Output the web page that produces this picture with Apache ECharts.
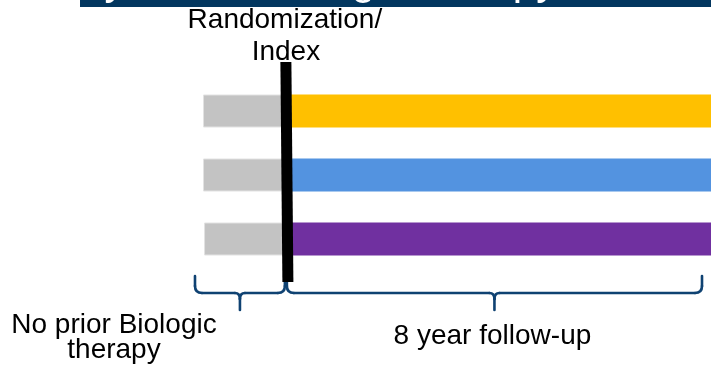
<!DOCTYPE html>
<html>
<head>
<meta charset="utf-8">
<script src="https://cdn.jsdelivr.net/npm/echarts@6/dist/echarts.min.js"></script>
<style>
  html, body { margin: 0; padding: 0; background: #ffffff; }
  #chart { width: 711px; height: 371px; }
</style>
</head>
<body>
<div id="chart"></div>
<script>
// Study arms, listed top to bottom
const arms = ['Arm 1', 'Arm 2', 'Arm 3'];
// Time before index (years, negative) and follow-up after index (years)
const priorYears = [-1.56, -1.56, -1.54];
const followUpYears = [8, 8, 8];
const armColors = ['#ffc000', '#5393e0', '#7030a0'];
// Text
const titleText = 'Study Arms: Biologic therapy';
const indexLabel = ['Randomization/', 'Index'];
const priorLabel = ['No prior Biologic', 'therapy'];
const followLabel = '8 year follow-up';

const FONT = '"Liberation Sans", Arial, sans-serif';
const chart = echarts.init(document.getElementById('chart'), null, { renderer: 'canvas' });

chart.setOption({
  animation: false,
  backgroundColor: '#ffffff',
  grid: { left: 0, right: 0, top: 79, height: 192 },
  xAxis: { type: 'value', min: -5.38, max: 8, show: false },
  yAxis: { type: 'category', data: arms, inverse: true, show: false },
  series: [
    {
      name: 'prior', type: 'bar', stack: 'time', barWidth: 33,
      data: priorYears,
      itemStyle: { color: '#c3c3c3', borderColor: '#e2e2e2', borderWidth: 1 }
    },
    {
      name: 'follow-up', type: 'bar', stack: 'time', barWidth: 33,
      data: followUpYears.map((v, i) => ({ value: v, itemStyle: { color: armColors[i] } }))
    }
  ]
});

// Annotation layer: index line, braces and phase labels, placed on the axis scale
function drawAnnotations() {
  const px = v => chart.convertToPixel({ xAxisIndex: 0 }, v);
  const xIndex = px(0);
  const xPriorStart = px(Math.min(...priorYears));
  const xEnd = px(Math.max(...followUpYears));

  const yTop = 276, yBar = 293, yTip = 310, r = 7;
  const braceStyle = { stroke: '#0f4272', lineWidth: 2.6, fill: null, lineCap: 'round' };

  // A horizontal curly brace built from straight segments and quadratic curves
  function brace(L, R, yLeft, yRight) {
    const M = (L + R) / 2;
    const seg = (x1, y1, x2, y2) => ({ type: 'line', shape: { x1, y1, x2, y2 }, style: braceStyle, z: 15 });
    const curve = (x1, y1, cpx1, cpy1, x2, y2) =>
      ({ type: 'bezierCurve', shape: { x1, y1, cpx1, cpy1, x2, y2 }, style: braceStyle, z: 15 });
    return [
      seg(L, yLeft, L, yBar - r),
      curve(L, yBar - r, L, yBar, L + r, yBar),
      seg(L + r, yBar, M - 5, yBar),
      curve(M - 5, yBar, M, yBar, M, yBar + 6),
      seg(M, yBar + 6, M, yTip),
      curve(M, yBar + 6, M, yBar, M + 5, yBar),
      seg(M + 5, yBar, R - r, yBar),
      curve(R - r, yBar, R, yBar, R, yBar - r),
      seg(R, yBar - r, R, yRight)
    ];
  }
  const label = (text, x, y) => ({
    type: 'text', x: x, y: y, z: 12,
    style: { text: text, font: '28px ' + FONT, fill: '#000000', align: 'center', verticalAlign: 'middle' }
  });

  chart.setOption({
    graphic: [
      // title band
      { type: 'rect', shape: { x: 80, y: 0, width: 631, height: 7 }, style: { fill: '#03375f' }, z: 10 },
      { type: 'text', x: 18, y: -18, z: 11,
        style: { text: titleText, font: '42px ' + FONT, fill: '#ffffff', align: 'left', verticalAlign: 'middle' } },
      // index marker
      { type: 'line', shape: { x1: xIndex, y1: 62, x2: xIndex + 2, y2: 282 },
        style: { stroke: '#000000', lineWidth: 11 }, z: 20 },
      // phase braces
      ...brace(xPriorStart - 8, xIndex - 1, yTop, 281),
      ...brace(xIndex + 1, xEnd - 9, 281, yTop),
      // labels
      label(indexLabel[0], xIndex - 1, 20),
      label(indexLabel[1], xIndex, 52),
      label(priorLabel[0], 114, 325),
      label(priorLabel[1], 114, 350),
      label(followLabel, (xIndex + xEnd) / 2 - 6, 336)
    ]
  });
}
drawAnnotations();
</script>
</body>
</html>
